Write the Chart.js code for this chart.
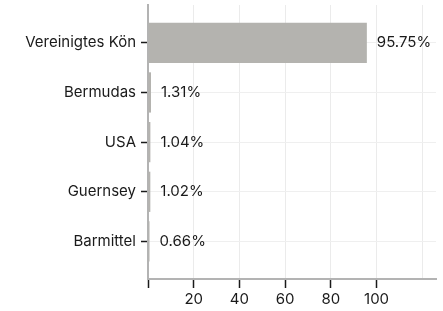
<!DOCTYPE html>
<html>
<head>
<meta charset="utf-8">
<script src="https://cdn.jsdelivr.net/npm/chart.js@4"></script>
<style>
  html, body { margin: 0; padding: 0; background: #fff; }
  #wrap { width: 443px; height: 311px; }
</style>
</head>
<body>
<div id="wrap"><canvas id="chart" width="443" height="311"></canvas></div>
<script>
const categories = ['Vereinigtes Kön', 'Bermudas', 'USA', 'Guernsey', 'Barmittel'];
const shares = [95.75, 1.31, 1.04, 1.02, 0.66];
const xTicks = [0, 20, 40, 60, 80, 100, 120];
const shownXLabels = [20, 40, 60, 80, 100];

const font = { family: 'Inter, "Noto Sans", sans-serif', size: 15 };

/* Schreibt die Prozentwerte rechts neben die Balken */
const valueLabels = {
  id: 'valueLabels',
  afterDatasetsDraw(chart) {
    const c = chart.ctx;
    c.save();
    c.font = '15px ' + font.family;
    c.fillStyle = '#1a1a1a';
    c.textBaseline = 'middle';
    chart.getDatasetMeta(0).data.forEach((bar, i) => {
      c.fillText(shares[i].toFixed(2) + '%', bar.x + 10, bar.y);
    });
    c.restore();
  }
};

new Chart(document.getElementById('chart'), {
  type: 'bar',
  data: {
    datasets: [{
      data: shares.map((v, i) => ({ x: v, y: i })),
      backgroundColor: '#b4b3af',
      borderWidth: 0,
      barPercentage: 0.81,
      categoryPercentage: 1
    }]
  },
  options: {
    indexAxis: 'y',
    responsive: false,
    animation: false,
    layout: { padding: { top: 5, right: 7, left: 0, bottom: 0 } },
    scales: {
      x: {
        type: 'linear',
        min: 0,
        max: 126,
        afterBuildTicks: s => { s.ticks = xTicks.map(v => ({ value: v })); },
        afterFit: s => { s.height = 32; s.paddingLeft = 0; s.paddingRight = 0; },
        border: { color: '#b3b3b3', width: 2 },
        grid: {
          color: ctx => ctx.tick && ctx.tick.value === 0 ? 'rgba(0,0,0,0)' : '#ebebeb',
          tickColor: ctx => ctx.tick && ctx.tick.value === 120 ? 'rgba(0,0,0,0)' : '#1a1a1a',
          tickLength: 9,
          tickWidth: 1.5
        },
        ticks: {
          font: font,
          color: '#1a1a1a',
          padding: 2,
          maxRotation: 0,
          autoSkip: false,
          callback: v => shownXLabels.includes(v) ? String(v) : ''
        }
      },
      y: {
        type: 'linear',
        reverse: true,
        offset: false,
        min: -0.76,
        max: 4.755,
        afterBuildTicks: s => { s.ticks = categories.map((c, i) => ({ value: i })); },
        afterFit: s => { s.width = 148; s.paddingTop = 0; s.paddingBottom = 0; },
        border: { color: '#b3b3b3', width: 2 },
        grid: {
          offset: false,
          color: '#efefef',
          tickColor: '#1a1a1a',
          tickLength: 7,
          tickWidth: 1.5
        },
        ticks: {
          font: font,
          color: '#1a1a1a',
          padding: 5,
          autoSkip: false,
          callback: v => categories[v]
        }
      }
    },
    plugins: {
      legend: { display: false },
      tooltip: { enabled: false }
    }
  },
  plugins: [valueLabels]
});
</script>
</body>
</html>
